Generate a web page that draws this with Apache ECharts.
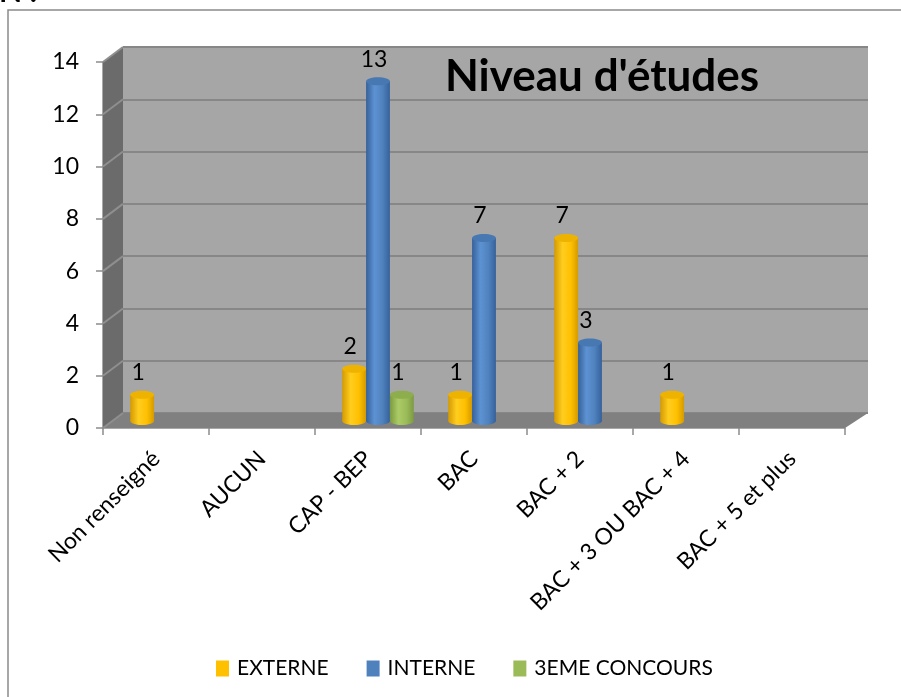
<!DOCTYPE html>
<html>
<head>
<meta charset="utf-8">
<script src="https://cdn.jsdelivr.net/npm/echarts@6/dist/echarts.min.js"></script>
<style>
html, body { margin: 0; padding: 0; background: #fff; }
#main { width: 901px; height: 697px; }
</style>
</head>
<body>
<div id="main"></div>
<script>
// données
const categories = ['Non renseigné', 'AUCUN', 'CAP - BEP', 'BAC', 'BAC + 2', 'BAC + 3 OU BAC + 4', 'BAC + 5 et plus'];
const externe = [1, 0, 2, 1, 7, 1, 0];
const interne = [0, 0, 13, 7, 3, 0, 0];
const concours = [0, 0, 1, 0, 0, 0, 0];
const yMin = 0, yMax = 14, yStep = 2;

const font = 'Lato';

// couleurs des cylindres : base, sombre, clair, dessus
const cYellow = { base: '#FFC000', dark: '#D49A00', light: '#FFCD1F', top: '#EDB300' };
const cBlue = { base: '#4F81BD', dark: '#35619A', light: '#5D92D2', top: '#4878B2' };
const cGreen = { base: '#9BBB59', dark: '#7C9A40', light: '#AACB66', top: '#8EAE4E' };

function toPairs(arr) {
    return arr.map((v, i) => [i, v]);
}

function cylinder(col, slot) {
    return function (params, api) {
        let v = api.value(1);
        if (!v) return;
        let base = api.coord([api.value(0), 0]);
        let top = api.coord([api.value(0), v]);
        let band = api.size([1, 0])[0];
        let w = band * 0.225;
        let cx = base[0] + slot * w;
        let ry = 4;
        let grad = new echarts.graphic.LinearGradient(0, 0, 1, 0, [
            { offset: 0, color: col.dark },
            { offset: 0.35, color: col.light },
            { offset: 0.7, color: col.base },
            { offset: 1, color: col.dark }
        ]);
        return {
            type: 'group',
            children: [
                { type: 'ellipse', shape: { cx: cx, cy: base[1], rx: w / 2, ry: ry }, style: { fill: grad } },
                { type: 'rect', shape: { x: cx - w / 2, y: top[1], width: w, height: base[1] - top[1] }, style: { fill: grad } },
                { type: 'ellipse', shape: { cx: cx, cy: top[1], rx: w / 2, ry: ry }, style: { fill: col.top } },
                {
                    type: 'text', x: cx - 4, y: top[1] - 22,
                    style: { text: String(v), font: '23px ' + font, fill: '#000', align: 'center', verticalAlign: 'middle' }
                }
            ]
        };
    };
}

let myChart = echarts.init(document.getElementById('main'));

let option = {
    backgroundColor: '#fff',
    animation: false,
    grid: [
        { left: 103, right: 56, top: 62, bottom: 269 },
        { left: 123, right: 33, top: 47, bottom: 284, show: true, backgroundColor: '#a6a6a6', borderWidth: 0 },
        { left: 113, right: 46, top: 55, bottom: 276 }
    ],
    xAxis: [
        {
            gridIndex: 0, type: 'category', data: categories, boundaryGap: true,
            axisLine: { show: true, lineStyle: { color: '#8c8c8c', width: 1.5 } },
            axisTick: { show: true, length: 7, lineStyle: { color: '#8c8c8c', width: 1.5 } },
            axisLabel: { rotate: 45, interval: 0, margin: 27, fontSize: 23, fontFamily: font, color: '#000' },
            splitLine: { show: false }
        },
        { gridIndex: 1, type: 'category', data: categories, show: false },
        { gridIndex: 2, type: 'category', data: categories, show: false }
    ],
    yAxis: [
        {
            gridIndex: 0, type: 'value', min: yMin, max: yMax, interval: yStep,
            axisLine: { show: true, lineStyle: { color: '#8c8c8c', width: 1.5 } },
            axisTick: { show: true, length: 7, lineStyle: { color: '#8c8c8c', width: 1.5 } },
            axisLabel: { margin: 4, padding: [0, 20, 0, 0], fontSize: 23, fontFamily: font, color: '#000' },
            splitLine: { show: false }
        },
        {
            gridIndex: 1, type: 'value', min: yMin, max: yMax, interval: yStep,
            axisLine: { show: false }, axisTick: { show: false }, axisLabel: { show: false },
            splitLine: { show: true, lineStyle: { color: '#878787', width: 2 } }
        },
        { gridIndex: 2, type: 'value', min: yMin, max: yMax, show: false }
    ],
    legend: {
        left: 211, top: 653, icon: 'rect', itemWidth: 13, itemHeight: 16, itemGap: 38,
        textStyle: { fontSize: 21, fontFamily: font, color: '#000', padding: [0, 0, 0, 3] },
        data: ['EXTERNE', 'INTERNE', '3EME CONCOURS']
    },
    series: [
        { name: 'EXTERNE', type: 'custom', xAxisIndex: 2, yAxisIndex: 2, z: 10, itemStyle: { color: cYellow.base }, renderItem: cylinder(cYellow, -1), data: toPairs(externe) },
        { name: 'INTERNE', type: 'custom', xAxisIndex: 2, yAxisIndex: 2, z: 10, itemStyle: { color: cBlue.base }, renderItem: cylinder(cBlue, 0), data: toPairs(interne) },
        { name: '3EME CONCOURS', type: 'custom', xAxisIndex: 2, yAxisIndex: 2, z: 10, itemStyle: { color: cGreen.base }, renderItem: cylinder(cGreen, 1), data: toPairs(concours) }
    ]
};
myChart.setOption(option);

// murs 3D (côté gauche + sol) et cadre
let fx0 = 103, fx1 = 845, bx0 = 123, bx1 = 868;
let fy0 = myChart.convertToPixel({ yAxisIndex: 0 }, yMin);
let fyMax = myChart.convertToPixel({ yAxisIndex: 0 }, yMax);
let by0 = myChart.convertToPixel({ yAxisIndex: 1 }, yMin);
let byMax = myChart.convertToPixel({ yAxisIndex: 1 }, yMax);

let deco = [
    { type: 'rect', z: 0, shape: { x: 8, y: 10, width: 1000, height: 1000 }, style: { fill: 'none', stroke: '#8a8a8a', lineWidth: 1.5 } },
    {
        type: 'text', z: 5, x: -1, y: 7,
        style: { text: 'N :', font: 'bold 30px ' + font, fill: '#000', verticalAlign: 'bottom' }
    },
    { type: 'polygon', z: 5, shape: { points: [[fx0, fyMax], [bx0, byMax], [bx0, by0], [fx0, fy0]] }, style: { fill: '#6b6b6b' } },
    { type: 'polygon', z: 5, shape: { points: [[fx0, fy0], [bx0, by0], [bx1, by0], [fx1, fy0]] }, style: { fill: '#808080' } },
    {
        type: 'text', z: 6, left: 445, top: 55,
        style: { text: "Niveau d'études", font: 'bold 44px ' + font, fill: '#000' }
    }
];
for (let v = yMin; v <= yMax; v += yStep) {
    deco.push({
        type: 'line', z: 6,
        shape: {
            x1: fx0, y1: myChart.convertToPixel({ yAxisIndex: 0 }, v),
            x2: bx0, y2: myChart.convertToPixel({ yAxisIndex: 1 }, v)
        },
        style: { stroke: '#8f8f8f', lineWidth: 2 }
    });
}
myChart.setOption({ graphic: { elements: deco } });
</script>
</body>
</html>
